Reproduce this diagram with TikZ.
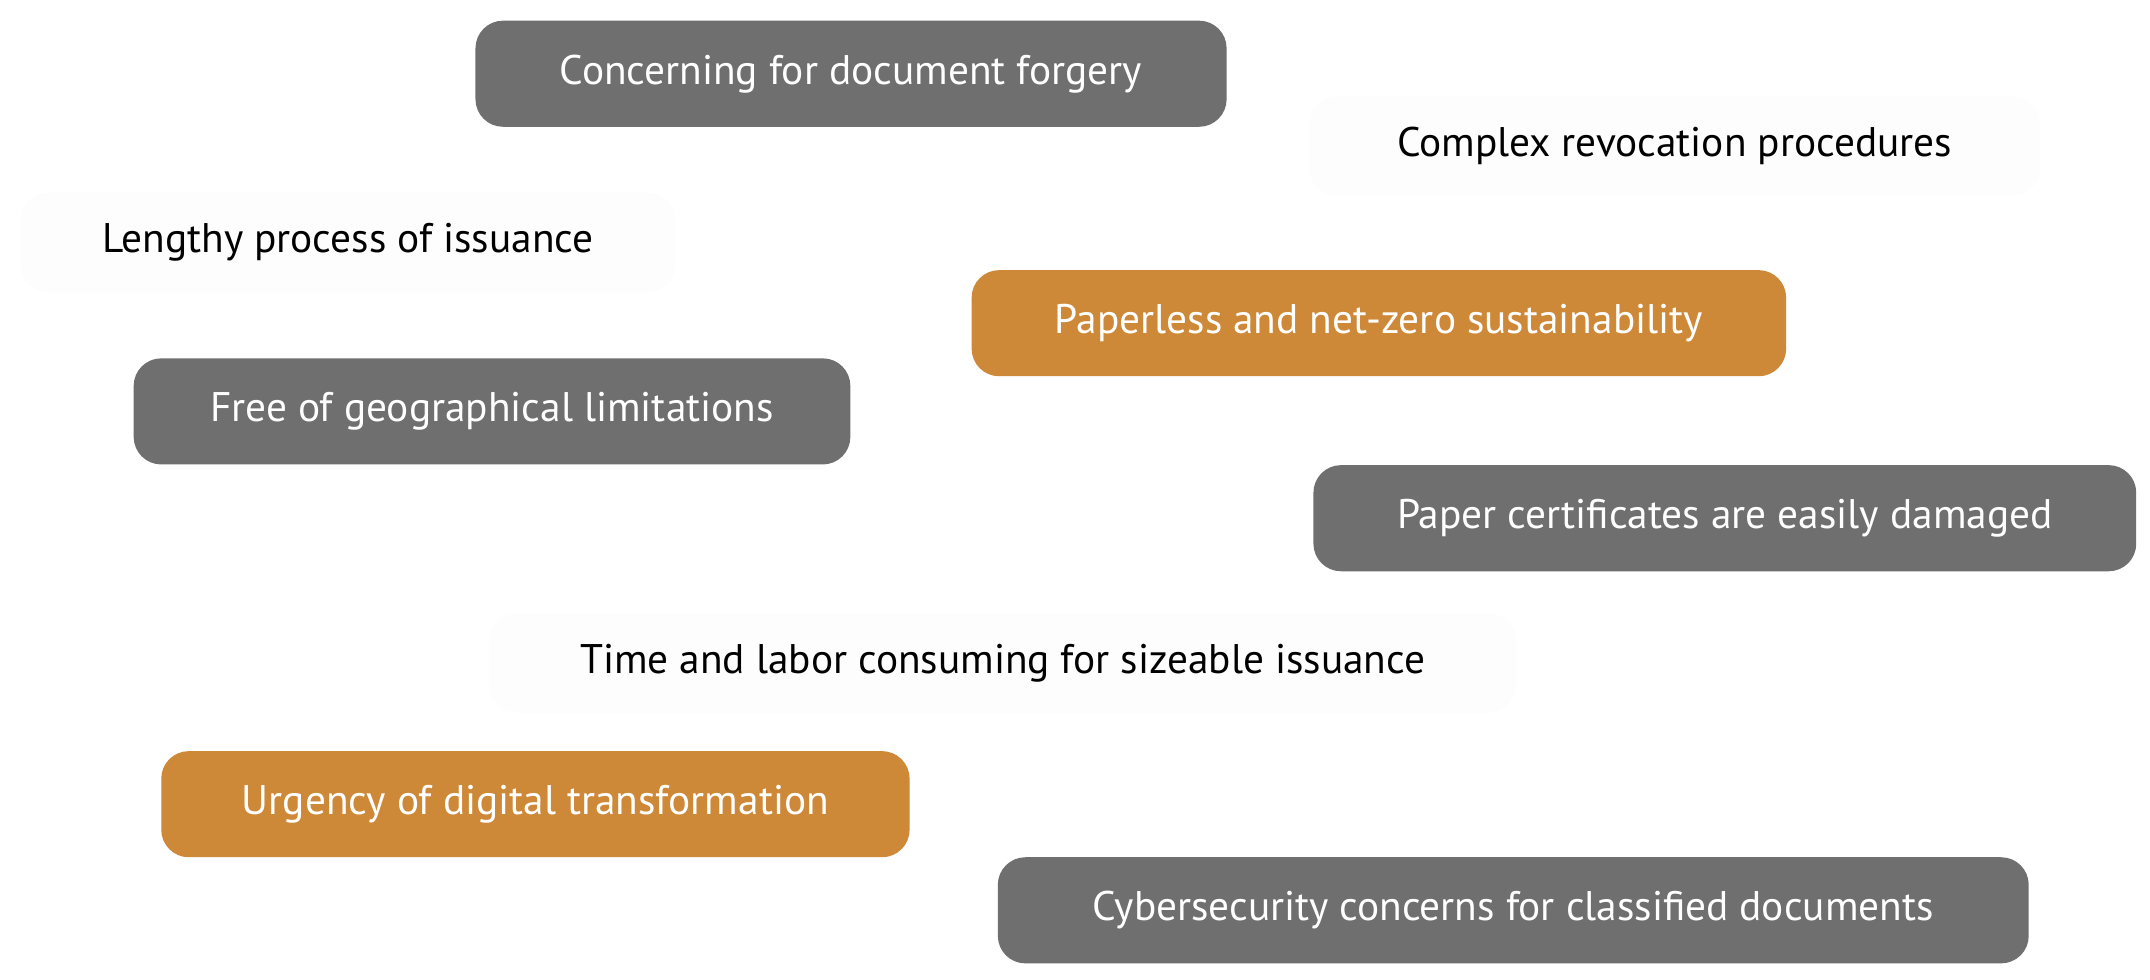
\documentclass[tikz,border=0pt]{standalone}
\usepackage{fontspec}
\setmainfont{PT Sans}
\definecolor{gbox}{HTML}{6F6F6F}
\definecolor{obox}{HTML}{CD8838}
\definecolor{wbox}{HTML}{FDFDFD}
\begin{document}
\begin{tikzpicture}[x=0.5pt,y=-0.5pt,
  base/.style={rounded corners=10pt,inner sep=0pt,minimum height=38.5pt,font=\fontsize{15}{18}\selectfont},
  gb/.style={base,fill=gbox,text=white},
  ob/.style={base,fill=obox,text=white},
  wb/.style={base,fill=wbox,text=black,minimum height=36pt}]
\useasboundingbox[fill=white] (0,0) rectangle (1560,711);
\node[gb,minimum width=272.5pt] (a) at (617.5,53.5) {Concerning for document forgery};
\node[wb,minimum width=265pt] (b) at (1215,106) {Complex revocation procedures};
\node[wb,minimum width=237.5pt] (c) at (252.5,176) {Lengthy process of issuance};
\node[ob,minimum width=295.5pt] (d) at (1000.5,234.5) {Paperless and net-zero sustainability};
\node[gb,minimum width=260pt] (e) at (357,298.5) {Free of geographical limitations};
\node[gb,minimum width=298.5pt] (f) at (1251.5,376) {Paper certificates are easily damaged};
\node[wb,minimum width=372.5pt] (g) at (727.5,481) {Time and labor consuming for sizeable issuance};
\node[ob,minimum width=271.5pt] (h) at (388.5,583.5) {Urgency of digital transformation};
\node[gb,minimum width=374pt] (i) at (1098,660.5) {Cybersecurity concerns for classified documents};
\end{tikzpicture}
\end{document}
